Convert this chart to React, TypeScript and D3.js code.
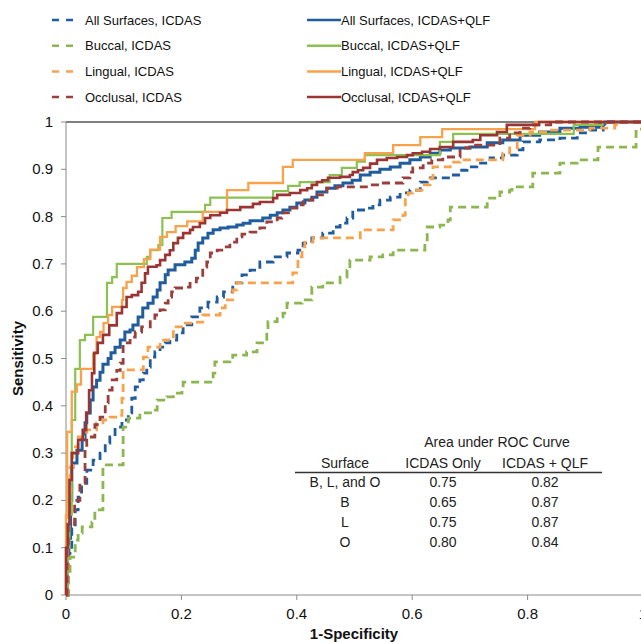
import React from 'react';
import * as d3 from 'd3';

type Pt = [number, number];

// ROC step points [1-specificity, sensitivity]
const allIcdas: Pt[] = [[0,0],[0.004,0.088],[0.01,0.144],[0.016,0.18],[0.021,0.207],[0.027,0.236],[0.036,0.264],[0.047,0.285],[0.059,0.3],[0.068,0.321],[0.076,0.334],[0.085,0.355],[0.097,0.37],[0.108,0.385],[0.114,0.416],[0.12,0.44],[0.128,0.455],[0.134,0.469],[0.14,0.482],[0.146,0.503],[0.154,0.514],[0.163,0.524],[0.172,0.533],[0.18,0.539],[0.192,0.554],[0.203,0.571],[0.218,0.588],[0.232,0.607],[0.246,0.619],[0.262,0.63],[0.273,0.641],[0.289,0.66],[0.305,0.677],[0.319,0.687],[0.336,0.704],[0.359,0.715],[0.383,0.723],[0.402,0.729],[0.411,0.744],[0.426,0.755],[0.445,0.765],[0.463,0.778],[0.475,0.786],[0.487,0.797],[0.497,0.814],[0.522,0.818],[0.532,0.825],[0.544,0.835],[0.562,0.841],[0.579,0.85],[0.596,0.856],[0.614,0.873],[0.626,0.882],[0.666,0.888],[0.683,0.898],[0.695,0.905],[0.712,0.913],[0.735,0.924],[0.757,0.93],[0.782,0.941],[0.792,0.958],[0.821,0.962],[0.856,0.966],[0.886,0.977],[0.908,0.983],[0.931,0.994],[0.94,1],[1,1]];
const allQlf: Pt[] = [[0,0],[0.002,0.08],[0.005,0.12],[0.008,0.2],[0.01,0.27],[0.012,0.279],[0.019,0.306],[0.028,0.328],[0.033,0.364],[0.036,0.385],[0.042,0.412],[0.047,0.44],[0.053,0.454],[0.059,0.471],[0.064,0.488],[0.073,0.5],[0.078,0.512],[0.085,0.524],[0.094,0.539],[0.102,0.556],[0.111,0.56],[0.116,0.571],[0.125,0.588],[0.133,0.607],[0.142,0.617],[0.151,0.63],[0.158,0.645],[0.163,0.66],[0.172,0.677],[0.177,0.687],[0.189,0.698],[0.206,0.704],[0.218,0.712],[0.224,0.729],[0.229,0.744],[0.237,0.755],[0.246,0.765],[0.255,0.772],[0.267,0.776],[0.281,0.778],[0.296,0.782],[0.307,0.786],[0.319,0.791],[0.341,0.797],[0.354,0.803],[0.366,0.808],[0.376,0.814],[0.388,0.82],[0.4,0.829],[0.414,0.835],[0.426,0.841],[0.435,0.852],[0.452,0.86],[0.466,0.865],[0.48,0.871],[0.496,0.877],[0.51,0.888],[0.527,0.894],[0.544,0.9],[0.562,0.905],[0.579,0.913],[0.596,0.92],[0.614,0.926],[0.631,0.934],[0.648,0.941],[0.666,0.945],[0.7,0.947],[0.73,0.956],[0.757,0.962],[0.787,0.972],[0.821,0.979],[0.856,0.987],[0.891,0.989],[0.925,0.996],[0.934,1],[1,1]];
const buccIcdas: Pt[] = [[0,0],[0.004,0.05],[0.007,0.08],[0.016,0.116],[0.021,0.131],[0.028,0.144],[0.045,0.154],[0.05,0.18],[0.064,0.275],[0.099,0.355],[0.108,0.374],[0.128,0.385],[0.151,0.391],[0.158,0.412],[0.175,0.419],[0.186,0.427],[0.201,0.433],[0.203,0.45],[0.237,0.45],[0.255,0.469],[0.258,0.493],[0.284,0.497],[0.289,0.507],[0.313,0.514],[0.331,0.533],[0.348,0.56],[0.35,0.578],[0.366,0.588],[0.376,0.596],[0.383,0.617],[0.409,0.624],[0.426,0.651],[0.445,0.66],[0.475,0.672],[0.487,0.687],[0.492,0.708],[0.527,0.715],[0.549,0.719],[0.567,0.729],[0.622,0.744],[0.626,0.778],[0.648,0.782],[0.662,0.793],[0.666,0.82],[0.73,0.839],[0.752,0.852],[0.769,0.856],[0.773,0.863],[0.809,0.892],[0.856,0.913],[0.886,0.92],[0.922,0.947],[0.988,0.985],[1,1]];
const buccQlf: Pt[] = [[0,0],[0.003,0.1],[0.006,0.17],[0.01,0.37],[0.016,0.478],[0.024,0.539],[0.033,0.55],[0.047,0.588],[0.071,0.66],[0.08,0.672],[0.088,0.7],[0.14,0.715],[0.146,0.729],[0.16,0.74],[0.167,0.797],[0.183,0.81],[0.241,0.825],[0.25,0.84],[0.359,0.854],[0.385,0.865],[0.405,0.873],[0.457,0.888],[0.478,0.903],[0.504,0.916],[0.518,0.93],[0.648,0.958],[0.671,0.975],[0.88,0.994],[0.93,1],[1,1]];
const lingIcdas: Pt[] = [[0,0],[0.003,0.2],[0.007,0.27],[0.012,0.313],[0.021,0.334],[0.036,0.349],[0.053,0.364],[0.064,0.37],[0.076,0.376],[0.09,0.38],[0.097,0.416],[0.099,0.476],[0.128,0.476],[0.134,0.503],[0.142,0.524],[0.163,0.539],[0.186,0.567],[0.203,0.575],[0.22,0.577],[0.237,0.592],[0.267,0.607],[0.276,0.624],[0.289,0.645],[0.296,0.66],[0.393,0.681],[0.402,0.715],[0.409,0.736],[0.414,0.746],[0.428,0.755],[0.51,0.772],[0.567,0.793],[0.584,0.803],[0.588,0.841],[0.593,0.85],[0.601,0.856],[0.617,0.867],[0.631,0.88],[0.636,0.905],[0.666,0.915],[0.683,0.92],[0.757,0.934],[0.769,0.945],[0.782,0.972],[0.804,0.979],[0.834,0.983],[0.908,0.987],[0.951,0.994],[0.96,1],[1,1]];
const lingQlf: Pt[] = [[0,0],[0,0.17],[0.002,0.345],[0.01,0.43],[0.019,0.445],[0.026,0.478],[0.047,0.51],[0.053,0.545],[0.059,0.556],[0.065,0.575],[0.073,0.592],[0.08,0.609],[0.097,0.624],[0.099,0.649],[0.105,0.662],[0.114,0.675],[0.123,0.693],[0.135,0.71],[0.146,0.73],[0.163,0.757],[0.175,0.767],[0.19,0.78],[0.21,0.79],[0.237,0.81],[0.279,0.856],[0.316,0.871],[0.376,0.905],[0.393,0.92],[0.518,0.934],[0.567,0.951],[0.614,0.968],[0.652,0.985],[0.813,1],[1,1]];
const occIcdas: Pt[] = [[0,0],[0.002,0.1],[0.004,0.15],[0.015,0.2],[0.024,0.237],[0.033,0.313],[0.036,0.334],[0.05,0.36],[0.059,0.376],[0.068,0.406],[0.073,0.433],[0.08,0.455],[0.088,0.475],[0.094,0.49],[0.099,0.533],[0.111,0.545],[0.12,0.556],[0.131,0.567],[0.146,0.581],[0.154,0.592],[0.163,0.603],[0.172,0.617],[0.177,0.63],[0.183,0.641],[0.189,0.649],[0.203,0.651],[0.215,0.662],[0.226,0.67],[0.237,0.693],[0.244,0.704],[0.25,0.723],[0.262,0.729],[0.273,0.736],[0.284,0.746],[0.296,0.757],[0.305,0.763],[0.319,0.767],[0.336,0.776],[0.348,0.789],[0.366,0.797],[0.374,0.808],[0.388,0.818],[0.4,0.825],[0.411,0.835],[0.428,0.846],[0.452,0.86],[0.47,0.863],[0.527,0.867],[0.544,0.871],[0.584,0.882],[0.596,0.894],[0.601,0.903],[0.619,0.913],[0.634,0.92],[0.653,0.926],[0.683,0.945],[0.7,0.951],[0.752,0.966],[0.769,0.977],[0.787,0.987],[0.804,0.994],[0.84,1],[1,1]];
const occQlf: Pt[] = [[0,0],[0,0.1],[0.003,0.15],[0.006,0.243],[0.01,0.3],[0.021,0.328],[0.029,0.349],[0.035,0.385],[0.04,0.433],[0.045,0.469],[0.049,0.512],[0.055,0.533],[0.064,0.55],[0.075,0.57],[0.088,0.596],[0.097,0.609],[0.105,0.63],[0.114,0.634],[0.125,0.641],[0.131,0.66],[0.137,0.68],[0.142,0.694],[0.157,0.697],[0.163,0.708],[0.172,0.719],[0.18,0.729],[0.186,0.744],[0.194,0.755],[0.203,0.765],[0.215,0.772],[0.22,0.778],[0.232,0.786],[0.241,0.797],[0.25,0.803],[0.267,0.808],[0.279,0.814],[0.302,0.82],[0.324,0.827],[0.336,0.831],[0.359,0.839],[0.366,0.846],[0.388,0.85],[0.406,0.856],[0.418,0.86],[0.426,0.867],[0.435,0.873],[0.444,0.877],[0.454,0.882],[0.475,0.884],[0.492,0.888],[0.497,0.894],[0.506,0.898],[0.515,0.903],[0.527,0.912],[0.539,0.92],[0.556,0.924],[0.574,0.926],[0.591,0.93],[0.601,0.934],[0.617,0.937],[0.631,0.943],[0.648,0.947],[0.671,0.958],[0.705,0.962],[0.718,0.972],[0.747,0.979],[0.764,0.994],[0.82,1],[1,1]];

const seriesNames = [
  'All Surfaces, ICDAS', 'All Surfaces, ICDAS+QLF',
  'Buccal, ICDAS', 'Buccal, ICDAS+QLF',
  'Lingual, ICDAS', 'Lingual, ICDAS+QLF',
  'Occlusal, ICDAS', 'Occlusal, ICDAS+QLF',
];
const seriesData = [allIcdas, allQlf, buccIcdas, buccQlf, lingIcdas, lingQlf, occIcdas, occQlf];

const xTicks = [0, 0.2, 0.4, 0.6, 0.8, 1];
const yTicks = [0, 0.1, 0.2, 0.3, 0.4, 0.5, 0.6, 0.7, 0.8, 0.9, 1];

const tableHead = ['Surface', 'ICDAS Only', 'ICDAS + QLF'];
const tableSurfaces = ['B, L, and O', 'B', 'L', 'O'];
const aucIcdas = ['0.75', '0.65', '0.75', '0.80'];
const aucQlf = ['0.82', '0.87', '0.87', '0.84'];

const colors = ['#215d9c', '#215d9c', '#8cb650', '#8cc152', '#f7a24d', '#f8a34b', '#9a3f3c', '#9b3533'];
const widths = [2.8, 3, 2.8, 2.2, 2.8, 2.3, 2.8, 2.6];

const W = 641;
const H = 642;
const font = '"Liberation Sans", Arial, sans-serif';

export default function App() {
  const x = d3.scaleLinear().domain([0, 1]).range([66, 643]);
  const y = d3.scaleLinear().domain([0, 1]).range([595, 122]);
  const line = d3.line<Pt>()
    .x(d => x(d[0]))
    .y(d => y(d[1]))
    .curve(d3.curveStepAfter);

  const dashed = (i: number) => i % 2 === 0;

  return (
    <svg width={W} height={H} style={{ position: 'absolute', left: 0, top: 0, background: '#fff' }}
      fontFamily={font}>
      {/* legend */}
      {seriesNames.map((name, i) => {
        const col = i % 2;
        const row = Math.floor(i / 2);
        const ly = 20 + row * 25.7;
        return (
          <g key={name}>
            {col === 0 ? (
              <line x1={52} x2={74} y1={ly} y2={ly} stroke={colors[i]} strokeWidth={2.5} strokeDasharray="7,7" />
            ) : (
              <line x1={307} x2={341} y1={ly} y2={ly} stroke={colors[i]} strokeWidth={2.5} />
            )}
            <text x={col === 0 ? 85 : 341} y={ly + 4.6} fontSize={13} fill="#111">{name}</text>
          </g>
        );
      })}

      {/* axes */}
      <line x1={x(0)} x2={W} y1={y(1)} y2={y(1)} stroke="#555" strokeWidth={1.3} />
      <line x1={x(0)} x2={x(0)} y1={y(1)} y2={y(0)} stroke="#8a8a8a" strokeWidth={1} />
      <line x1={x(0)} x2={W} y1={y(0)} y2={y(0)} stroke="#8a8a8a" strokeWidth={1} />
      {yTicks.map(t => (
        <g key={'y' + t}>
          <line x1={x(0) - 5} x2={x(0)} y1={y(t)} y2={y(t)} stroke="#8a8a8a" />
          <text x={53} y={y(t) + 5} textAnchor="end" fontSize={15} fill="#111">{d3.format('~g')(t)}</text>
        </g>
      ))}
      {xTicks.map(t => (
        <g key={'x' + t}>
          <line x1={x(t)} x2={x(t)} y1={y(0)} y2={y(0) + 5} stroke="#8a8a8a" />
          <text x={x(t)} y={619} textAnchor="middle" fontSize={15} fill="#111">{d3.format('~g')(t)}</text>
        </g>
      ))}
      <text x={354} y={639} textAnchor="middle" fontSize={15} fontWeight="bold" fill="#111">1-Specificity</text>
      <text transform={`translate(23,${(y(0) + y(1)) / 2}) rotate(-90)`} textAnchor="middle" fontSize={15}
        fontWeight="bold" fill="#111">Sensitivity</text>

      {/* curves */}
      {seriesData.map((data, i) => (
        <path key={seriesNames[i]} d={line(data) || ''} fill="none" stroke={colors[i]} strokeWidth={widths[i]}
          strokeDasharray={dashed(i) ? '8,5' : undefined} />
      ))}

      {/* AUC table */}
      <g fontSize={14} fill="#222" textAnchor="middle">
        <text x={497} y={447}>Area under ROC Curve</text>
        <text x={345} y={468}>{tableHead[0]}</text>
        <text x={443} y={468}>{tableHead[1]}</text>
        <text x={545} y={468}>{tableHead[2]}</text>
        <line x1={295} x2={602} y1={472.5} y2={472.5} stroke="#333" strokeWidth={1.5} />
        {tableSurfaces.map((s, i) => (
          <g key={s}>
            <text x={345} y={487 + i * 20}>{s}</text>
            <text x={443} y={487 + i * 20}>{aucIcdas[i]}</text>
            <text x={545} y={487 + i * 20}>{aucQlf[i]}</text>
          </g>
        ))}
      </g>
    </svg>
  );
}
